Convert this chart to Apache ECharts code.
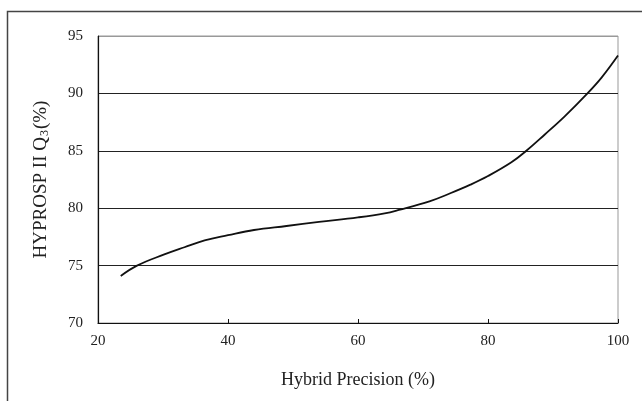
<!DOCTYPE html>
<html>
<head>
<meta charset="utf-8">
<script src="https://cdn.jsdelivr.net/npm/echarts@6/dist/echarts.min.js"></script>
<style>html,body{margin:0;padding:0;background:#fff}#c{width:642px;height:401px}</style>
</head>
<body>
<div id="c"></div>
<script>
const precision = [23.5, 26.0, 30.1, 33.3, 36.4, 40.0, 44.0, 49.0, 54.0, 60.0, 64.1, 66.3, 71.0, 74.2, 77.3, 80.0, 83.6, 85.9, 88.7, 91.8, 95.3, 97.5, 100.0];
const q3 = [74.1, 75.0, 75.95, 76.6, 77.2, 77.65, 78.1, 78.45, 78.8, 79.2, 79.55, 79.85, 80.6, 81.3, 82.05, 82.8, 84.0, 85.0, 86.4, 88.0, 90.0, 91.4, 93.3];
const xTitle = 'Hybrid Precision (%)';
const yTitle = 'HYPROSP II Q{sub|3}(%)';

const font = '"Liberation Serif", "Times New Roman", serif';
const chart = echarts.init(document.getElementById('c'), null, {renderer: 'canvas'});
chart.setOption({
  animation: false,
  backgroundColor: '#fff',
  graphic: [{
    type: 'rect', shape: {x: 7.5, y: 11.5, width: 700, height: 500},
    style: {fill: 'none', stroke: '#444', lineWidth: 1.5}, silent: true, z: -1
  }],
  grid: {left: 98, right: 24, top: 36, bottom: 78, show: true, borderColor: '#999', borderWidth: 1, backgroundColor: 'transparent'},
  xAxis: {
    type: 'value', min: 20, max: 100, interval: 20,
    name: xTitle, nameLocation: 'middle', nameGap: 48,
    nameTextStyle: {fontFamily: font, fontSize: 18, color: '#222'},
    axisLine: {show: true, lineStyle: {color: '#111', width: 1.2}},
    axisTick: {show: true, inside: true, length: 4, lineStyle: {color: '#111'}},
    axisLabel: {fontFamily: font, fontSize: 15, color: '#222', margin: 11},
    splitLine: {show: false}
  },
  yAxis: {
    type: 'value', min: 70, max: 95, interval: 5,
    name: yTitle, nameLocation: 'middle', nameGap: 47, nameRotate: 90,
    nameTextStyle: {fontFamily: font, fontSize: 19, color: '#222',
      rich: {sub: {fontFamily: font, fontSize: 12, color: '#222', padding: [6, 1, 0, 1]}}},
    axisLine: {show: true, lineStyle: {color: '#111', width: 1.2}},
    axisTick: {show: false},
    axisLabel: {fontFamily: font, fontSize: 15, color: '#222', margin: 15},
    splitLine: {show: true, lineStyle: {color: ['#222', '#222', '#222', '#222', '#222', '#999'], width: 1}}
  },
  series: [{
    type: 'line', data: precision.map((x, i) => [x, q3[i]]),
    showSymbol: false, smooth: 0.4,
    lineStyle: {color: '#111', width: 1.8}
  }]
});
</script>
</body>
</html>
